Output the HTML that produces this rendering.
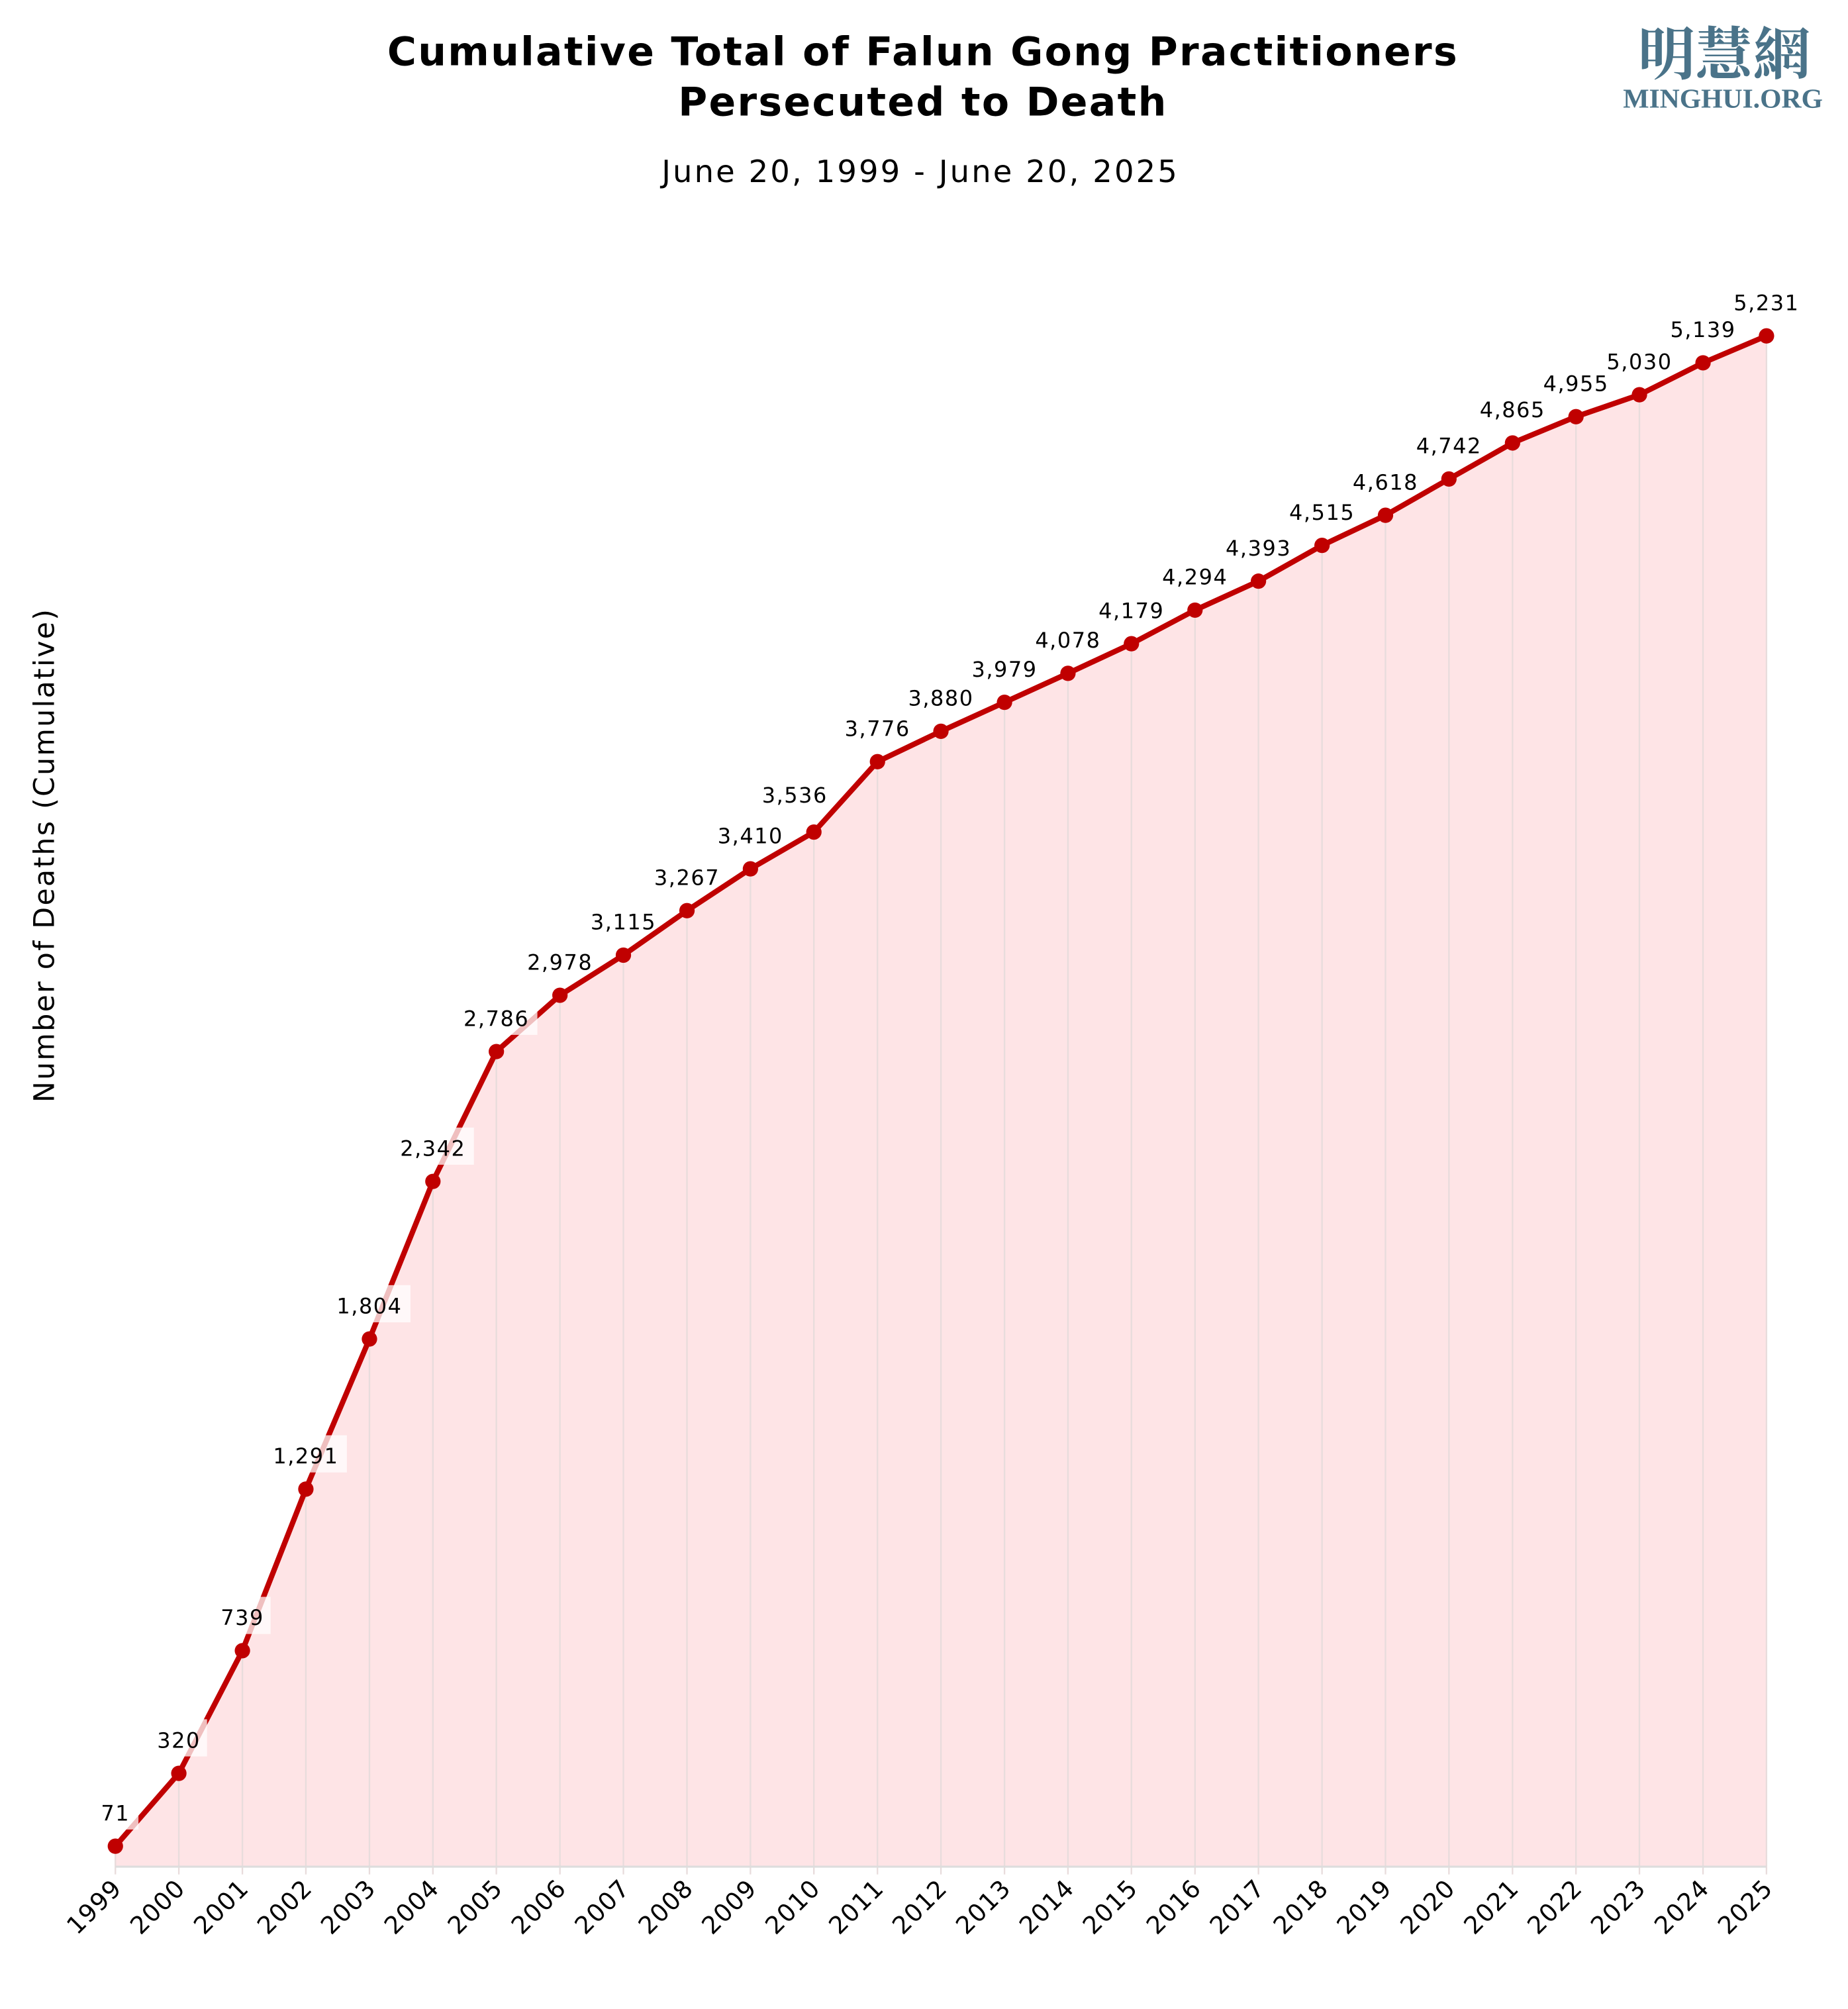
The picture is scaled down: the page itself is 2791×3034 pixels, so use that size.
<!DOCTYPE html>
<html><head><meta charset="utf-8"><style>
html,body{margin:0;padding:0;background:#fff;}
svg{display:block;}
text{font-family:"DejaVu Sans","Liberation Sans",sans-serif;}
</style></head><body>
<svg width="2791" height="3034" viewBox="0 0 1441.6 1567" preserveAspectRatio="none" xmlns="http://www.w3.org/2000/svg">
<rect width="1441.6" height="1567" fill="#fff"/>
<text x="720" y="51" text-anchor="middle" font-size="31" font-weight="bold" letter-spacing="1.2" fill="#000">Cumulative Total of Falun Gong Practitioners</text>
<text x="720" y="90" text-anchor="middle" font-size="31" font-weight="bold" letter-spacing="1.2" fill="#000">Persecuted to Death</text>
<text x="718" y="142" text-anchor="middle" font-size="24" letter-spacing="1.6" fill="#000">June 20, 1999 - June 20, 2025</text>
<text x="1345" y="58" text-anchor="middle" font-size="45" font-weight="bold" fill="#4a7389" style="font-family:'Noto Serif CJK SC','Noto Sans CJK TC',serif">明慧網</text>
<text x="1344" y="84" text-anchor="middle" font-size="21.5" font-weight="bold" fill="#4a7389" style="font-family:'Liberation Serif',serif">MINGHUI.ORG</text>
<text transform="translate(42,667) rotate(-90)" text-anchor="middle" font-size="22" letter-spacing="1.2" fill="#000">Number of Deaths (Cumulative)</text>

<polygon fill="#fee4e6" points="90,1456 90,1440 139.5,1383.2 189.1,1287.5 238.6,1161.5 288.2,1044.4 337.7,921.5 387.2,820.2 436.8,776.3 486.3,745 535.9,710.3 585.4,677.7 634.9,649 684.5,594.1 734,570.4 783.6,547.8 833.1,525.2 882.6,502.1 932.2,475.9 981.7,453.3 1031.3,425.4 1080.8,401.9 1130.3,373.6 1179.9,345.5 1229.4,325 1278.9,307.9 1328.5,283 1378,262 1378,1456"/>
<g stroke="#e8dcdc" stroke-width="1.2">
<line x1="90" y1="1440" x2="90" y2="1462"/><line x1="139.5" y1="1383" x2="139.5" y2="1462"/><line x1="189.1" y1="1287" x2="189.1" y2="1462"/><line x1="238.6" y1="1161" x2="238.6" y2="1462"/><line x1="288.2" y1="1044" x2="288.2" y2="1462"/><line x1="337.7" y1="921" x2="337.7" y2="1462"/><line x1="387.2" y1="820" x2="387.2" y2="1462"/><line x1="436.8" y1="776" x2="436.8" y2="1462"/><line x1="486.3" y1="745" x2="486.3" y2="1462"/><line x1="535.9" y1="710" x2="535.9" y2="1462"/><line x1="585.4" y1="677" x2="585.4" y2="1462"/><line x1="634.9" y1="649" x2="634.9" y2="1462"/><line x1="684.5" y1="594" x2="684.5" y2="1462"/><line x1="734" y1="570" x2="734" y2="1462"/><line x1="783.6" y1="548" x2="783.6" y2="1462"/><line x1="833.1" y1="525" x2="833.1" y2="1462"/><line x1="882.6" y1="502" x2="882.6" y2="1462"/><line x1="932.2" y1="476" x2="932.2" y2="1462"/><line x1="981.7" y1="453" x2="981.7" y2="1462"/><line x1="1031.3" y1="425" x2="1031.3" y2="1462"/><line x1="1080.8" y1="402" x2="1080.8" y2="1462"/><line x1="1130.3" y1="374" x2="1130.3" y2="1462"/><line x1="1179.9" y1="345" x2="1179.9" y2="1462"/><line x1="1229.4" y1="325" x2="1229.4" y2="1462"/><line x1="1278.9" y1="308" x2="1278.9" y2="1462"/><line x1="1328.5" y1="283" x2="1328.5" y2="1462"/><line x1="1378" y1="262" x2="1378" y2="1462"/>
</g>
<line x1="90" y1="1456" x2="1378" y2="1456" stroke="#dddddd" stroke-width="1.6"/>

<polyline fill="none" stroke="#c00000" stroke-width="4.2" stroke-linejoin="round" points="90,1440 139.5,1383.2 189.1,1287.5 238.6,1161.5 288.2,1044.4 337.7,921.5 387.2,820.2 436.8,776.3 486.3,745 535.9,710.3 585.4,677.7 634.9,649 684.5,594.1 734,570.4 783.6,547.8 833.1,525.2 882.6,502.1 932.2,475.9 981.7,453.3 1031.3,425.4 1080.8,401.9 1130.3,373.6 1179.9,345.5 1229.4,325 1278.9,307.9 1328.5,283 1378,262"/>

<g fill="#ffffff" fill-opacity="0.75">
<rect x="72" y="1398" width="36" height="29"/>
<rect x="117.5" y="1341" width="44" height="29"/>
<rect x="167.1" y="1245.5" width="44" height="29"/>
<rect x="206.6" y="1119.5" width="64" height="29"/>
<rect x="256.2" y="1002.4" width="64" height="29"/>
<rect x="305.7" y="879.5" width="64" height="29"/>
<rect x="355.2" y="778.2" width="64" height="29"/>
</g>

<g fill="#c00000">
<circle cx="90" cy="1440" r="6"/><circle cx="139.5" cy="1383.2" r="6"/><circle cx="189.1" cy="1287.5" r="6"/><circle cx="238.6" cy="1161.5" r="6"/><circle cx="288.2" cy="1044.4" r="6"/><circle cx="337.7" cy="921.5" r="6"/><circle cx="387.2" cy="820.2" r="6"/><circle cx="436.8" cy="776.3" r="6"/><circle cx="486.3" cy="745" r="6"/><circle cx="535.9" cy="710.3" r="6"/><circle cx="585.4" cy="677.7" r="6"/><circle cx="634.9" cy="649" r="6"/><circle cx="684.5" cy="594.1" r="6"/><circle cx="734" cy="570.4" r="6"/><circle cx="783.6" cy="547.8" r="6"/><circle cx="833.1" cy="525.2" r="6"/><circle cx="882.6" cy="502.1" r="6"/><circle cx="932.2" cy="475.9" r="6"/><circle cx="981.7" cy="453.3" r="6"/><circle cx="1031.3" cy="425.4" r="6"/><circle cx="1080.8" cy="401.9" r="6"/><circle cx="1130.3" cy="373.6" r="6"/><circle cx="1179.9" cy="345.5" r="6"/><circle cx="1229.4" cy="325" r="6"/><circle cx="1278.9" cy="307.9" r="6"/><circle cx="1328.5" cy="283" r="6"/><circle cx="1378" cy="262" r="6"/>
</g>

<g font-size="16.5" letter-spacing="0.8" fill="#000" text-anchor="middle">
<text x="90" y="1420">71</text>
<text x="139.5" y="1363.2">320</text>
<text x="189.1" y="1267.5">739</text>
<text x="238.6" y="1141.5">1,291</text>
<text x="288.2" y="1024.4">1,804</text>
<text x="337.7" y="901.5">2,342</text>
<text x="387.2" y="800.2">2,786</text>
<text x="436.8" y="756.3">2,978</text>
<text x="486.3" y="725">3,115</text>
<text x="535.9" y="690.3">3,267</text>
<text x="585.4" y="657.7">3,410</text>
<text x="620" y="626">3,536</text>
<text x="684.5" y="574.1">3,776</text>
<text x="734" y="550.4">3,880</text>
<text x="783.6" y="527.8">3,979</text>
<text x="833.1" y="505.2">4,078</text>
<text x="882.6" y="482.1">4,179</text>
<text x="932.2" y="455.9">4,294</text>
<text x="981.7" y="433.3">4,393</text>
<text x="1031.3" y="405.4">4,515</text>
<text x="1080.8" y="381.9">4,618</text>
<text x="1130.3" y="353.6">4,742</text>
<text x="1179.9" y="325.5">4,865</text>
<text x="1229.4" y="305">4,955</text>
<text x="1278.9" y="287.9">5,030</text>
<text x="1328.5" y="263">5,139</text>
<text x="1378" y="242">5,231</text>
</g>

<g font-size="19" letter-spacing="0.6" fill="#000" text-anchor="end">
<text transform="translate(96,1474) rotate(-45)">1999</text>
<text transform="translate(145.5,1474) rotate(-45)">2000</text>
<text transform="translate(195.1,1474) rotate(-45)">2001</text>
<text transform="translate(244.6,1474) rotate(-45)">2002</text>
<text transform="translate(294.2,1474) rotate(-45)">2003</text>
<text transform="translate(343.7,1474) rotate(-45)">2004</text>
<text transform="translate(393.2,1474) rotate(-45)">2005</text>
<text transform="translate(442.8,1474) rotate(-45)">2006</text>
<text transform="translate(492.3,1474) rotate(-45)">2007</text>
<text transform="translate(541.9,1474) rotate(-45)">2008</text>
<text transform="translate(591.4,1474) rotate(-45)">2009</text>
<text transform="translate(640.9,1474) rotate(-45)">2010</text>
<text transform="translate(690.5,1474) rotate(-45)">2011</text>
<text transform="translate(740,1474) rotate(-45)">2012</text>
<text transform="translate(789.6,1474) rotate(-45)">2013</text>
<text transform="translate(839.1,1474) rotate(-45)">2014</text>
<text transform="translate(888.6,1474) rotate(-45)">2015</text>
<text transform="translate(938.2,1474) rotate(-45)">2016</text>
<text transform="translate(987.7,1474) rotate(-45)">2017</text>
<text transform="translate(1037.3,1474) rotate(-45)">2018</text>
<text transform="translate(1086.8,1474) rotate(-45)">2019</text>
<text transform="translate(1136.3,1474) rotate(-45)">2020</text>
<text transform="translate(1185.9,1474) rotate(-45)">2021</text>
<text transform="translate(1235.4,1474) rotate(-45)">2022</text>
<text transform="translate(1284.9,1474) rotate(-45)">2023</text>
<text transform="translate(1334.5,1474) rotate(-45)">2024</text>
<text transform="translate(1384,1474) rotate(-45)">2025</text>
</g>
</svg>
</body></html>
